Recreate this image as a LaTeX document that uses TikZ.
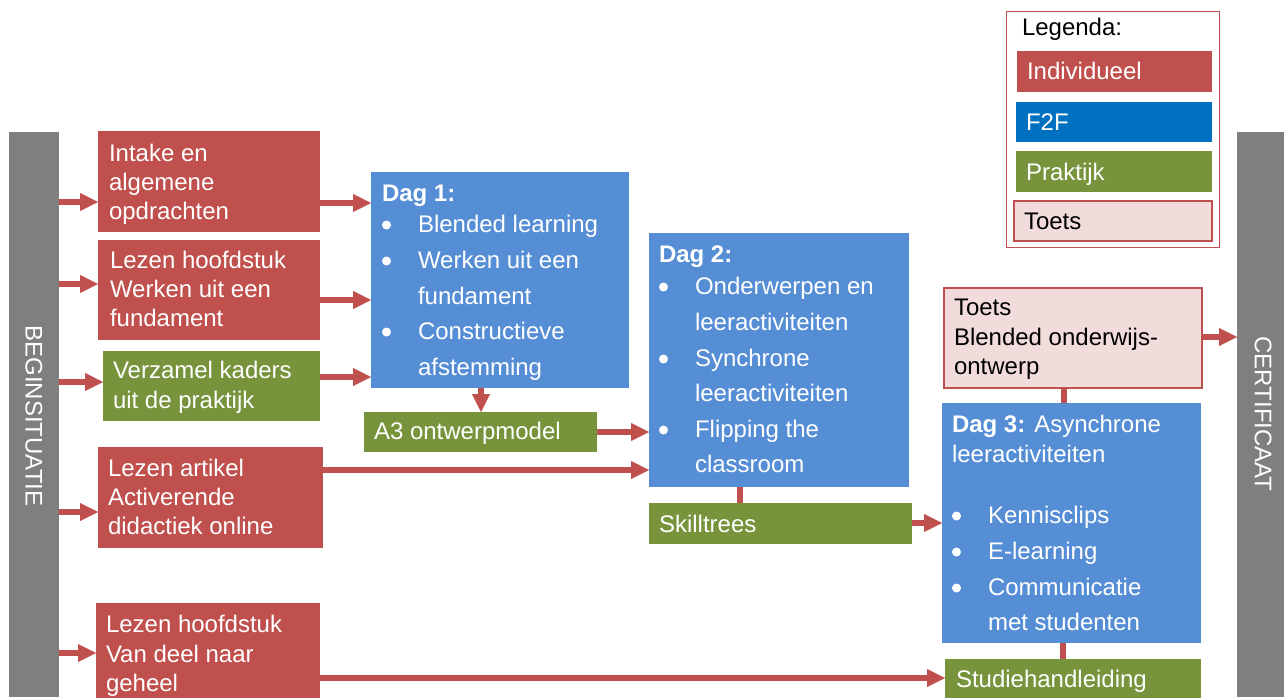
\documentclass[tikz,border=0pt]{standalone}
\usepackage{fontspec}
\setmainfont{Liberation Sans}
\usetikzlibrary{arrows.meta}
\definecolor{cred}{HTML}{C0504D}
\definecolor{cblue}{HTML}{558ED5}
\definecolor{cfef}{HTML}{0070C0}
\definecolor{cgreen}{HTML}{77933C}
\definecolor{cpink}{HTML}{F2DCDB}
\definecolor{cgray}{HTML}{7F7F7F}
\newcommand{\bul}{\makebox[36pt][l]{\tikz[baseline=0pt]\fill[white] (4.5pt,7pt) circle (4.5pt);}}
\newcommand{\ind}{\hspace*{36pt}}
\begin{document}
\begin{tikzpicture}[x=1pt,y=-1pt,
  box/.style={inner sep=0pt,outer sep=0pt,anchor=north west},
  txt/.style={inner sep=0pt,outer sep=0pt,anchor=north west,align=left,
    font=\fontsize{24}{29}\selectfont,text=white},
  ktxt/.style={txt,text=black},
  arr/.style={draw=cred,line width=5.5pt,-{Triangle[length=18pt,width=18pt,line width=0.1pt]}},
  ln/.style={draw=cred,line width=5.5pt}]
\useasboundingbox (0,0) rectangle (1284,697);
% side bars
\node[box,fill=cgray,minimum width=50pt,minimum height=565pt] (lb) at (9,132) {};
\node[box,fill=cgray,minimum width=50pt,minimum height=565pt] (rb) at (1237,132) {};
\node[rotate=-90,font=\fontsize{24}{29}\selectfont,text=white,inner sep=0pt] (lbt) at (34,416) {BEGINSITUATIE};
\node[rotate=-90,font=\fontsize{24}{29}\selectfont,text=white,inner sep=0pt] (rbt) at (1263,414) {CERTIFICAAT};
% left column
\node[box,fill=cred,minimum width=222pt,minimum height=101pt] (intake) at (98,131) {};
\node[txt] (intaket) at (109,140.7) {\strut Intake en\\algemene\\opdrachten};
\node[box,fill=cred,minimum width=222pt,minimum height=100pt] (lez1) at (98,240) {};
\node[txt] (lez1t) at (110,247.7) {\strut Lezen hoofdstuk\\Werken uit een\\fundament};
\node[box,fill=cgreen,minimum width=217pt,minimum height=70pt] (verz) at (103,351) {};
\node[txt] (verzt) at (113,357.7) {\strut Verzamel kaders\\[1pt]uit de praktijk};
\node[box,fill=cred,minimum width=225pt,minimum height=101pt] (art) at (98,447) {};
\node[txt] (artt) at (108,455.7) {\strut Lezen artikel\\Activerende\\didactiek online};
\node[box,fill=cred,minimum width=224pt,minimum height=104pt] (lez2) at (96,603) {};
\node[txt] (lez2t) at (106,611.7) {\strut Lezen hoofdstuk\\[1pt]Van deel naar\\geheel};
% Dag 1
\node[box,fill=cblue,minimum width=258pt,minimum height=216pt] (dag1) at (371,172) {};
\node[txt] (dag1t) at (382,180.7) {\strut\textbf{Dag 1:}\\[2pt]\bul Blended learning\\[7pt]\bul Werken uit een\\[7pt]\ind fundament\\[6pt]\bul Constructieve\\[7pt]\ind afstemming};
\node[box,fill=cgreen,minimum width=233pt,minimum height=40pt] (a3) at (364,412) {};
\node[txt] (a3t) at (374,418.7) {\strut A3 ontwerpmodel};
% Dag 2
\node[box,fill=cblue,minimum width=260pt,minimum height=254pt] (dag2) at (649,233) {};
\node[txt] (dag2t) at (659,241.7) {\strut\textbf{Dag 2:}\\[3pt]\bul Onderwerpen en\\[7pt]\ind leeractiviteiten\\[7pt]\bul Synchrone\\[6pt]\ind leeractiviteiten\\[7pt]\bul Flipping the\\[6pt]\ind classroom};
\node[box,fill=cgreen,minimum width=263pt,minimum height=41pt] (skill) at (649,503) {};
\node[txt] (skillt) at (659,511.7) {\strut Skilltrees};
% Toets + Dag 3
\node[box,fill=cpink,draw=cred,line width=1.5pt,minimum width=258pt,minimum height=100pt] (toets) at (944,288) {};
\node[ktxt] (toetst) at (954,294.7) {\strut Toets\\[1pt]Blended onderwijs-\\ontwerp};
\node[box,fill=cblue,minimum width=259pt,minimum height=240pt] (dag3) at (942,403) {};
\node[txt] (dag3t) at (952,411.7) {\strut\textbf{Dag 3:} Asynchrone\\[1pt]leeractiviteiten\\[32pt]\bul Kennisclips\\[7pt]\bul E-learning\\[7pt]\bul Communicatie\\[6pt]\ind met studenten};
\node[box,fill=cgreen,minimum width=256pt,minimum height=45pt] (studie) at (945,659) {};
\node[txt] (studiet) at (956,666.7) {\strut Studiehandleiding};
% legend
\node[box,fill=white,draw=cred,line width=1pt,minimum width=213pt,minimum height=236pt] (leg) at (1006,11) {};
\node[ktxt] (legt) at (1022,14.7) {\strut Legenda:};
\node[box,fill=cred,minimum width=195pt,minimum height=41pt] (lind) at (1017,51) {};
\node[txt] (lindt) at (1027,58.7) {\strut Individueel};
\node[box,fill=cfef,minimum width=196pt,minimum height=40pt] (lfef) at (1016,102) {};
\node[txt] (lfeft) at (1026,109.7) {\strut F2F};
\node[box,fill=cgreen,minimum width=196pt,minimum height=41pt] (lprak) at (1016,151) {};
\node[txt] (lprakt) at (1026,159.7) {\strut Praktijk};
\node[box,fill=cpink,draw=cred,line width=1.5pt,minimum width=198pt,minimum height=40pt] (ltoets) at (1014,201) {};
\node[ktxt] (ltoetst) at (1024,208.7) {\strut Toets};
% connectors
\draw[arr] (lb.east |- 0,202) -- (intake.west |- 0,202);
\draw[arr] (intake.east |- 0,203) -- (dag1.west |- 0,203);
\draw[arr] (lb.east |- 0,284) -- (lez1.west |- 0,284);
\draw[arr] (lez1.east |- 0,300) -- (dag1.west |- 0,300);
\draw[arr] (lb.east |- 0,382) -- (verz.west |- 0,382);
\draw[arr] (verz.east |- 0,377) -- (dag1.west |- 0,377);
\draw[arr] (dag1.south -| 481,0) -- (a3.north -| 481,0);
\draw[arr] (a3.east |- 0,432) -- (dag2.west |- 0,432);
\draw[arr] (lb.east |- 0,512) -- (art.west |- 0,512);
\draw[arr] (art.east |- 0,470) -- (dag2.west |- 0,470);
\draw[ln] (dag2.south -| 740,0) -- (skill.north -| 740,0);
\draw[arr] (skill.east |- 0,523) -- (dag3.west |- 0,523);
\draw[arr] (lb.east |- 0,653) -- (lez2.west |- 0,653);
\draw[arr] (lez2.east |- 0,678) -- (studie.west |- 0,678);
\draw[ln] (toets.south -| 1064,0) -- (dag3.north -| 1064,0);
\draw[ln] (dag3.south -| 1063,0) -- (studie.north -| 1063,0);
\draw[arr] (toets.east |- 0,337) -- (rb.west |- 0,337);
\end{tikzpicture}
\end{document}
